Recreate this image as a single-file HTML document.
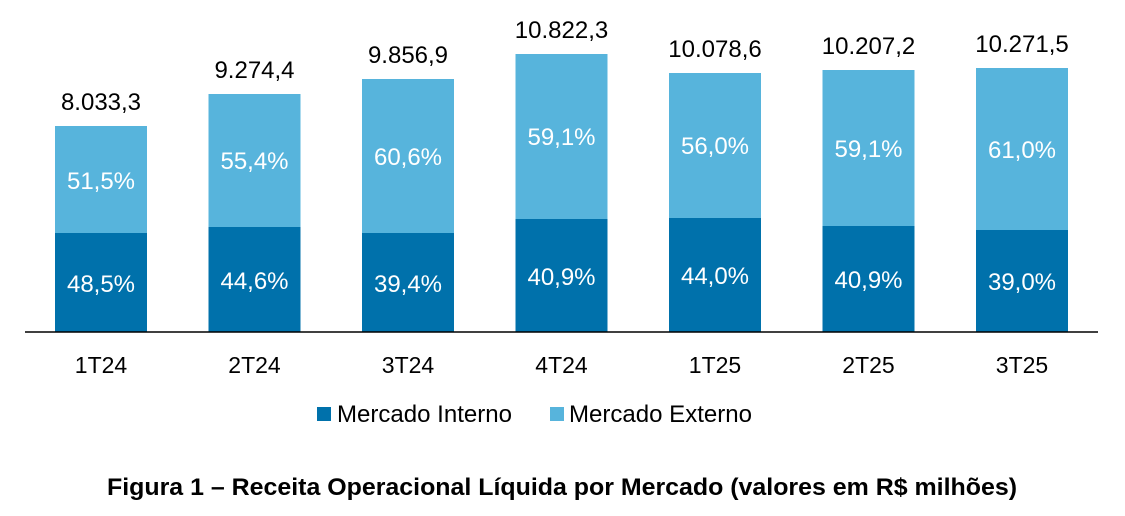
<!DOCTYPE html>
<html>
<head>
<meta charset="utf-8">
<style>
  html,body{margin:0;padding:0;background:#fff;}
  svg{display:block;}
  text{font-family:"Liberation Sans",Arial,sans-serif;}
</style>
</head>
<body>
<svg width="1125" height="516" viewBox="0 0 1125 516" xmlns="http://www.w3.org/2000/svg">
  <rect x="0" y="0" width="1125" height="516" fill="#ffffff"/>

  <!-- Bars: light (externo) top, dark (interno) bottom -->
  <g>
    <!-- 1T24 -->
    <rect x="55" y="126" width="92" height="107" fill="#57B4DC"/>
    <rect x="55" y="233" width="92" height="99" fill="#0071AB"/>
    <!-- 2T24 -->
    <rect x="208.5" y="94" width="92" height="133" fill="#57B4DC"/>
    <rect x="208.5" y="227" width="92" height="105" fill="#0071AB"/>
    <!-- 3T24 -->
    <rect x="362" y="79" width="92" height="154" fill="#57B4DC"/>
    <rect x="362" y="233" width="92" height="99" fill="#0071AB"/>
    <!-- 4T24 -->
    <rect x="515.5" y="54" width="92" height="165" fill="#57B4DC"/>
    <rect x="515.5" y="219" width="92" height="113" fill="#0071AB"/>
    <!-- 1T25 -->
    <rect x="669" y="73" width="92" height="145" fill="#57B4DC"/>
    <rect x="669" y="218" width="92" height="114" fill="#0071AB"/>
    <!-- 2T25 -->
    <rect x="822.5" y="70" width="92" height="156" fill="#57B4DC"/>
    <rect x="822.5" y="226" width="92" height="106" fill="#0071AB"/>
    <!-- 3T25 -->
    <rect x="976" y="68" width="92" height="162" fill="#57B4DC"/>
    <rect x="976" y="230" width="92" height="102" fill="#0071AB"/>
  </g>

  <!-- Axis -->
  <line x1="25" y1="332" x2="1098" y2="332" stroke="#000" stroke-width="1.6"/>

  <!-- Total value labels -->
  <g font-size="24" fill="#000" text-anchor="middle">
    <text x="101" y="110">8.033,3</text>
    <text x="254.5" y="78">9.274,4</text>
    <text x="408" y="63">9.856,9</text>
    <text x="561.5" y="38">10.822,3</text>
    <text x="715" y="57">10.078,6</text>
    <text x="868.5" y="54">10.207,2</text>
    <text x="1022" y="52">10.271,5</text>
  </g>

  <!-- Percent labels externo -->
  <g font-size="24" fill="#ffffff" text-anchor="middle">
    <text x="101" y="189">51,5%</text>
    <text x="254.5" y="169">55,4%</text>
    <text x="408" y="165">60,6%</text>
    <text x="561.5" y="145">59,1%</text>
    <text x="715" y="154">56,0%</text>
    <text x="868.5" y="157">59,1%</text>
    <text x="1022" y="158">61,0%</text>
  </g>

  <!-- Percent labels interno -->
  <g font-size="24" fill="#ffffff" text-anchor="middle">
    <text x="101" y="292">48,5%</text>
    <text x="254.5" y="289">44,6%</text>
    <text x="408" y="292">39,4%</text>
    <text x="561.5" y="285">40,9%</text>
    <text x="715" y="284">44,0%</text>
    <text x="868.5" y="288">40,9%</text>
    <text x="1022" y="290">39,0%</text>
  </g>

  <!-- Category labels -->
  <g font-size="23" fill="#000" text-anchor="middle">
    <text x="101" y="373">1T24</text>
    <text x="254.5" y="373">2T24</text>
    <text x="408" y="373">3T24</text>
    <text x="561.5" y="373">4T24</text>
    <text x="715" y="373">1T25</text>
    <text x="868.5" y="373">2T25</text>
    <text x="1022" y="373">3T25</text>
  </g>

  <!-- Legend -->
  <rect x="317" y="407" width="14" height="14" fill="#0071AB"/>
  <text x="337" y="422" font-size="24" fill="#000" textLength="175" lengthAdjust="spacingAndGlyphs">Mercado Interno</text>
  <rect x="550" y="407" width="14" height="14" fill="#57B4DC"/>
  <text x="569" y="422" font-size="24" fill="#000" textLength="183" lengthAdjust="spacingAndGlyphs">Mercado Externo</text>

  <!-- Caption -->
  <text x="107" y="495" font-size="24" font-weight="bold" fill="#000" textLength="910" lengthAdjust="spacingAndGlyphs">Figura 1 – Receita Operacional Líquida por Mercado (valores em R$ milhões)</text>
</svg>
</body>
</html>
